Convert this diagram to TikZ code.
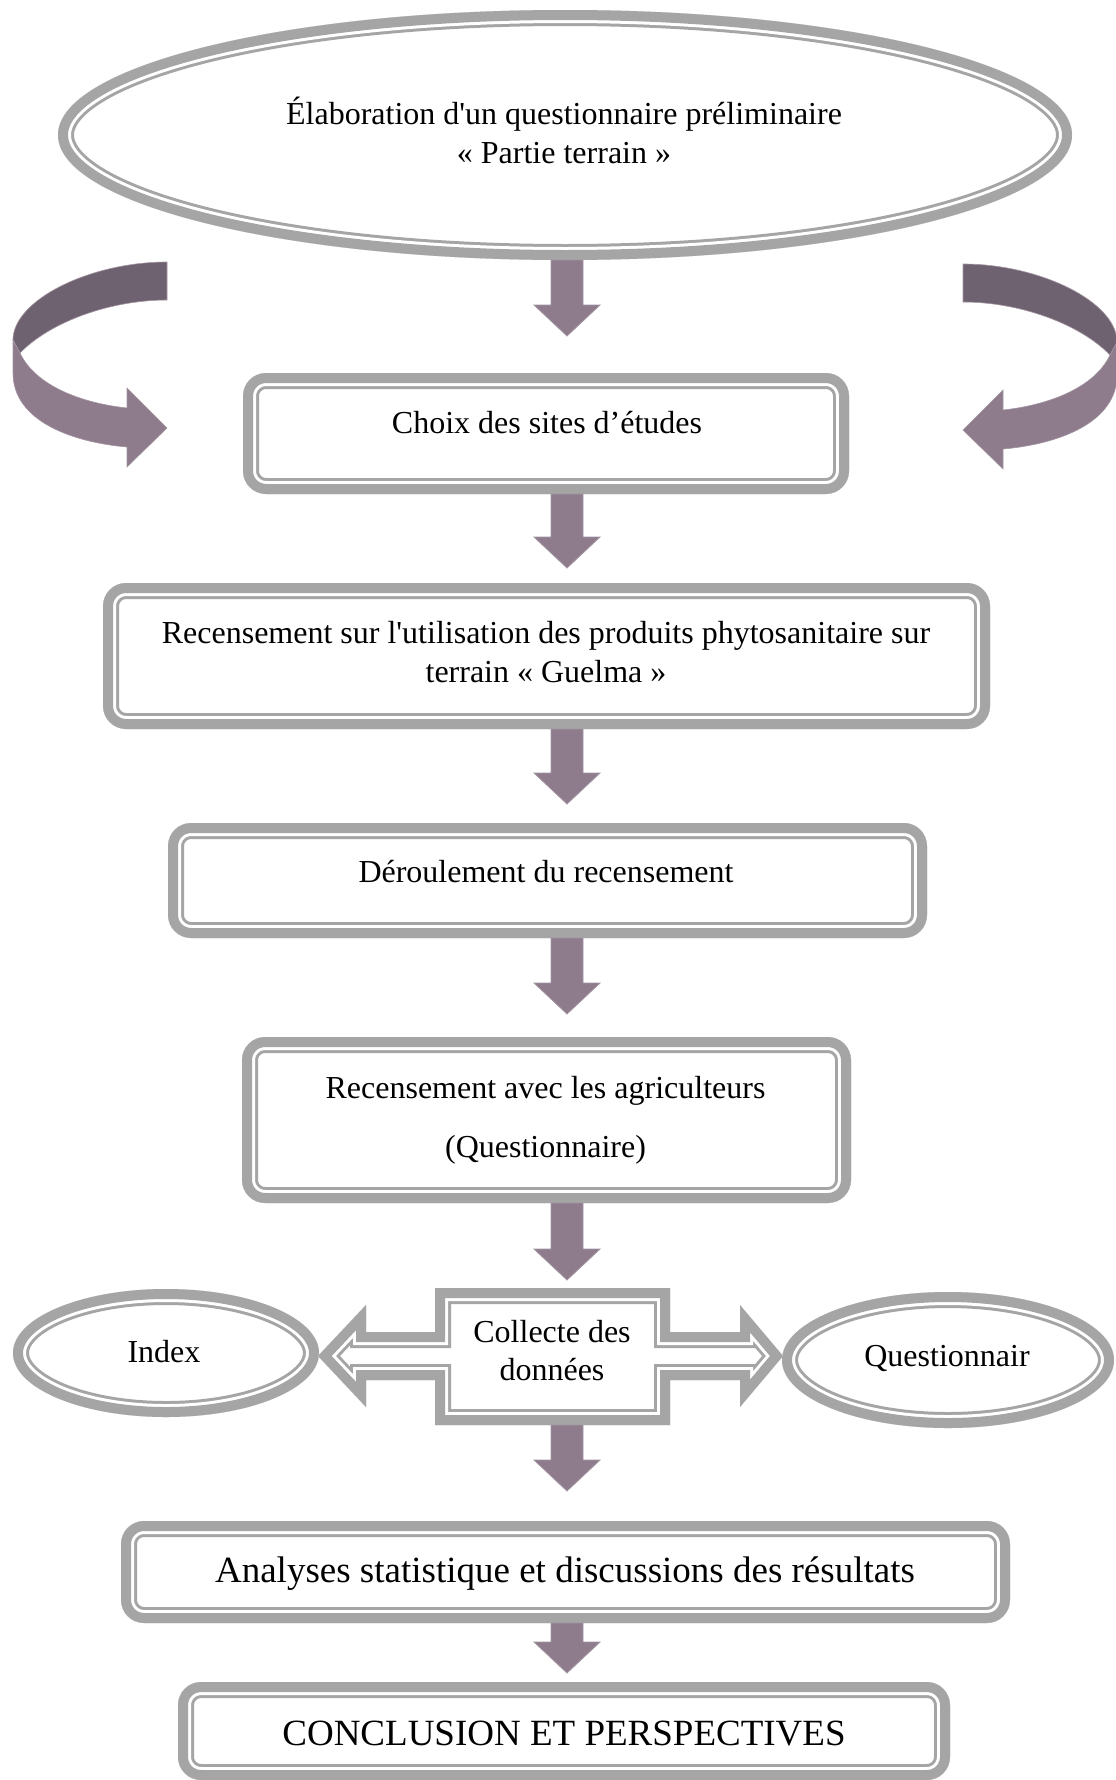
\documentclass[tikz,border=0pt]{standalone}
\usepackage{fontspec}
\setmainfont{Liberation Serif}
\usetikzlibrary{calc,shapes.geometric}
\definecolor{bandgray}{HTML}{A5A5A5}
\definecolor{purp}{HTML}{8E7B8C}
\definecolor{purpdark}{HTML}{6F6270}
\definecolor{purpedge}{HTML}{A495A2}
\newcommand\dblline[2][]{%
  \fill[white,#1] #2;
  \begin{scope}
    \clip[#1] #2;
    \draw[bandgray,line width=32pt,#1] #2;
    \draw[white,line width=26pt,#1] #2;
    \draw[bandgray,line width=20pt,#1] #2;
  \end{scope}}
\newcommand\blkdown[2]{%
  \filldraw[fill=purp,draw=purpedge,line width=0.8pt]
    ($#1+(-16,0)$) -- ($#2+(-16,-31)$) -- ($#2+(-33,-31)$) -- #2
    -- ($#2+(33,-31)$) -- ($#2+(16,-31)$) -- ($#1+(16,0)$) -- cycle;}
\tikzset{
  holder/.style={inner sep=0pt, outer sep=0pt, draw=none},
  txt/.style={anchor=base, inner sep=0pt, font=\fontsize{32}{38}\selectfont},
  bigtxt/.style={anchor=base, inner sep=0pt, font=\fontsize{37}{44}\selectfont},
  darkpart/.style={fill=purpdark,draw=purpedge,line width=0.6pt},
  lightpart/.style={fill=purp,draw=purpedge,line width=0.6pt}
}
\begin{document}
\begin{tikzpicture}[x=1pt,y=-1pt]
\fill[white] (0,0) rectangle (1116,1780);
\useasboundingbox (0,0) rectangle (1116,1780);

% shape holders
\node[holder, ellipse, minimum width=1014pt, minimum height=250pt] (e1) at (565,135) {};
\node[holder, rectangle, minimum width=606pt, minimum height=121pt] (b1) at (546,433.5) {};
\node[holder, rectangle, minimum width=887pt, minimum height=146pt] (b2) at (546.5,656) {};
\node[holder, rectangle, minimum width=759pt, minimum height=115pt] (b3) at (547.5,880.5) {};
\node[holder, rectangle, minimum width=609pt, minimum height=166pt] (b4) at (546.5,1120) {};
\node[holder, rectangle, minimum width=235pt, minimum height=137pt] (c) at (552.5,1356.5) {};
\node[holder, ellipse, minimum width=306pt, minimum height=128pt] (i1) at (166,1353) {};
\node[holder, ellipse, minimum width=332pt, minimum height=136pt] (q1) at (948,1360) {};
\node[holder, rectangle, minimum width=889pt, minimum height=102pt] (b6) at (565.5,1572) {};
\node[holder, rectangle, minimum width=772pt, minimum height=98pt] (b7) at (564,1731) {};
\coordinate (ax) at (567,0);

% borders
\dblline{(e1.center) ellipse (507 and 125)}
\dblline[rounded corners=23pt]{(b1.north west) rectangle (b1.south east)}
\dblline[rounded corners=23pt]{(b2.north west) rectangle (b2.south east)}
\dblline[rounded corners=23pt]{(b3.north west) rectangle (b3.south east)}
\dblline[rounded corners=23pt]{(b4.north west) rectangle (b4.south east)}
\dblline{(i1.center) ellipse (153 and 64)}
\dblline{(q1.center) ellipse (166 and 68)}
\dblline{(435,1288) -- (670,1288) -- (670,1332) -- (740,1332) -- (740,1305) -- (783,1356)
  -- (740,1407) -- (740,1380) -- (670,1380) -- (670,1425) -- (435,1425) -- (435,1380)
  -- (366,1380) -- (366,1407) -- (318,1356) -- (366,1305) -- (366,1332) -- (435,1332) -- cycle}
\dblline[rounded corners=23pt]{(b6.north west) rectangle (b6.south east)}
\dblline[rounded corners=23pt]{(b7.north west) rectangle (b7.south east)}

% curved arrows (left)
\filldraw[darkpart] (167,262) .. controls (90,262) and (13,300) .. (13,340)
  -- (20,353) .. controls (50,322) and (110,300) .. (167,300) -- cycle;
\filldraw[lightpart] (13,340) -- (13,373) .. controls (13,420) and (70,442) .. (127,447)
  -- (127,467) -- (167,428) -- (127,388) -- (127,408)
  .. controls (80,403) and (35,385) .. (20,353) -- cycle;
% curved arrows (right, mirrored)
\filldraw[darkpart] (963,264) .. controls (1040,264) and (1117,302) .. (1117,342)
  -- (1110,355) .. controls (1080,324) and (1020,302) .. (963,302) -- cycle;
\filldraw[lightpart] (1117,342) -- (1117,375) .. controls (1117,422) and (1060,444) .. (1003,449)
  -- (1003,469) -- (963,430) -- (1003,390) -- (1003,410)
  .. controls (1050,405) and (1095,387) .. (1110,355) -- cycle;

% down arrows
\coordinate (a1tip) at ($(b1.north -| ax)+(0,-37)$);
\coordinate (a2tip) at ($(b2.north -| ax)+(0,-15)$);
\coordinate (a3tip) at ($(b3.north -| ax)+(0,-19)$);
\coordinate (a4tip) at ($(b4.north -| ax)+(0,-23)$);
\coordinate (a5tip) at ($(c.north -| ax)+(0,-8)$);
\coordinate (a6tip) at ($(b6.north -| ax)+(0,-30)$);
\coordinate (a7tip) at ($(b7.north -| ax)+(0,-9)$);
\blkdown{(e1.south -| ax)}{(a1tip)}
\blkdown{(b1.south -| ax)}{(a2tip)}
\blkdown{(b2.south -| ax)}{(a3tip)}
\blkdown{(b3.south -| ax)}{(a4tip)}
\blkdown{(b4.south -| ax)}{(a5tip)}
\blkdown{(c.south -| ax)}{(a6tip)}
\blkdown{(b6.south -| ax)}{(a7tip)}

% texts
\node[txt] (te1a) at (564,124) {Élaboration d\textquotesingle un questionnaire préliminaire};
\node[txt] (te1b) at (564,163.5) {« Partie terrain »};
\node[txt] (t1) at (547,433) {Choix des sites d’études};
\node[txt] (t2a) at (546,643) {Recensement sur l\textquotesingle utilisation des produits phytosanitaire sur};
\node[txt] (t2b) at (546,682) {terrain « Guelma »};
\node[txt] (t3) at (546,882) {Déroulement du recensement};
\node[txt] (t4a) at (545.5,1098) {Recensement avec les agriculteurs};
\node[txt] (t4b) at (545.5,1157) {(Questionnaire)};
\node[txt] (tca) at (552,1342) {Collecte des};
\node[txt] (tcb) at (552,1380) {données};
\node[txt] (ti) at (164,1362) {Index};
\node[txt] (tq) at (947,1366) {Questionnair};
\node[bigtxt] (t6) at (565,1582) {Analyses statistique et discussions des résultats};
\node[bigtxt] (t7) at (564,1745) {CONCLUSION ET PERSPECTIVES};
\end{tikzpicture}
\end{document}
